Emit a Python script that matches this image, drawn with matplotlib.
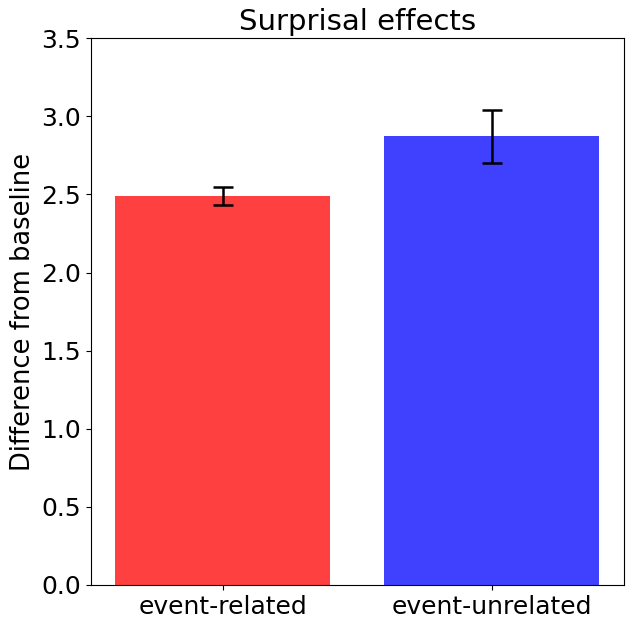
import numpy as np
import matplotlib
matplotlib.use("Agg")
import matplotlib.pyplot as plt

conditions = ["event-related", "event-unrelated"]
means = [2.49, 2.873]
errors = [0.06, 0.17]
bar_colors = ["red", "blue"]

fig = plt.figure(figsize=(6.3, 6.25), dpi=100)
ax = fig.add_axes([0.144, 0.064, 0.846, 0.875])

x = np.arange(len(conditions))
ax.bar(x, means, width=0.8, color=bar_colors, alpha=0.75,
       yerr=errors, capsize=7, error_kw=dict(elinewidth=1.8, capthick=1.8, ecolor="black"))

ax.set_xticks(x)
ax.set_xticklabels(conditions, fontsize=18)
ax.set_ylim(0, 3.5)
ax.set_yticks(np.arange(0, 3.51, 0.5))
ax.tick_params(axis="y", labelsize=18)
ax.set_ylabel("Difference from baseline", fontsize=18.5)
ax.set_title("Surprisal effects", fontsize=21)

fig.savefig("out.png", dpi=100)
